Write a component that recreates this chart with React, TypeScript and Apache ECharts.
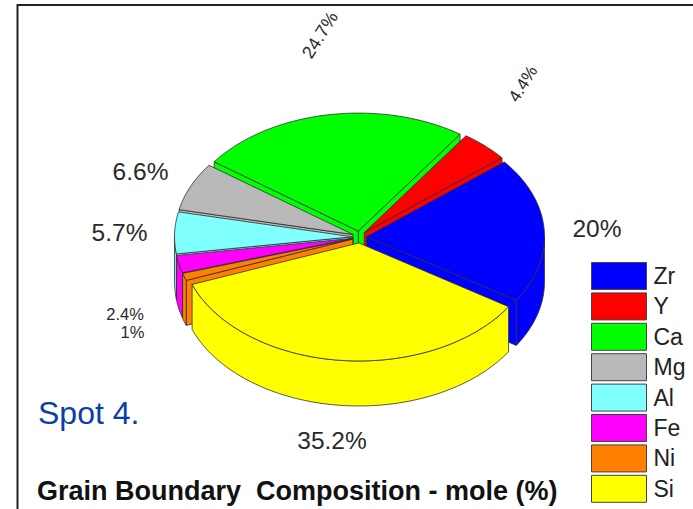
import React, { useEffect, useRef } from "react";
import * as echarts from "echarts";

// Mole percentages, listed counter-clockwise from the lower right of the pie.
const elements = ["Zr", "Y", "Ca", "Mg", "Al", "Fe", "Ni", "Si"];
const moles = [20, 4.4, 24.7, 6.6, 5.7, 2.4, 1, 35.2];
const colors = ["#0000ff", "#ff0000", "#00ff00", "#b9b9b9", "#80ffff", "#ff00ff", "#ff8000", "#ffff00"];
const paintOrder = [2, 1, 3, 0, 4, 5, 6, 7];

const CX = 359.5;
const CY = 237;
const RX = 178;
const RY = 118;
const DEPTH = 45;
const EXPLODE_X = 7;
const EXPLODE_Y = 6;
const START_DEG = 32.7;
const OUTLINE = "#2e2e2e";

const rad = (d: number) => (d * Math.PI) / 180;

function sliceAngles(index: number) {
  const total = moles.reduce((a, b) => a + b, 0);
  const before = moles.slice(0, index).reduce((a, b) => a + b, 0);
  // Angles decrease on screen, so the slices run counter-clockwise.
  const a0 = START_DEG - (before / total) * 360;
  const a1 = a0 - (moles[index] / total) * 360;
  return { a0, a1 };
}

function sliceShapes(index: number) {
  const { a0, a1 } = sliceAngles(index);
  const mid = (a0 + a1) / 2;
  const apex: [number, number] = [
    CX + EXPLODE_X * Math.cos(rad(mid)),
    CY + EXPLODE_Y * Math.sin(rad(mid)),
  ];
  const rim = (d: number, drop = 0): [number, number] => [
    apex[0] + RX * Math.cos(rad(d)),
    apex[1] + RY * Math.sin(rad(d)) + drop,
  ];
  const arc = (from: number, to: number, drop = 0) => {
    const n = Math.max(2, Math.ceil(Math.abs(to - from)));
    return Array.from({ length: n + 1 }, (_, i) => rim(from + ((to - from) * i) / n, drop));
  };

  const style = { fill: colors[index], stroke: OUTLINE, lineWidth: 0.8 };
  const children: any[] = [];
  const poly = (points: number[][], z = 0) =>
    children.push({ type: "polygon", shape: { points }, style, z2: z });

  // Side walls that face the viewer.
  const midDir = [Math.cos(rad(mid)) * RX, Math.sin(rad(mid)) * RY];
  [a0, a1].forEach((a) => {
    const dir = [Math.cos(rad(a)) * RX, Math.sin(rad(a)) * RY];
    const inner = dir[0] * midDir[1] - dir[1] * midDir[0];
    const down = dir[0];
    if (Math.sign(inner) !== Math.sign(down)) {
      poly([apex, rim(a), rim(a, DEPTH), [apex[0], apex[1] + DEPTH]]);
    }
  });

  // Rim wall, only where the arc lies on the near half of the ellipse.
  [[0, 180], [-360, -180]].forEach(([from, to]) => {
    const lo = Math.max(a1, from);
    const hi = Math.min(a0, to);
    if (hi > lo) {
      poly([...arc(hi, lo), ...arc(lo, hi, DEPTH)], 1);
    }
  });

  // Top face.
  poly([apex, ...arc(a0, a1)], 2);
  return children;
}

const pieSeries = paintOrder.map((i) => ({
  type: "custom",
  name: elements[i],
  coordinateSystem: "none",
  silent: true,
  itemStyle: { color: colors[i] },
  data: [moles[i]],
  renderItem: () => ({ type: "group", children: sliceShapes(i) }),
}));

const pct = (i: number) => `${moles[i]}%`;

const font = "Liberation Sans, Arial, sans-serif";
const label = (text: string, x: number, y: number, size: number, rotation = 0) => ({
  type: "text",
  x,
  y,
  rotation,
  silent: true,
  style: { text, fill: "#2a2a2a", font: `${size}px ${font}`, align: "center", verticalAlign: "middle" },
});

export default function App() {
  const ref = useRef<HTMLDivElement>(null);

  useEffect(() => {
    document.body.style.margin = "0";
    const chart = echarts.init(ref.current!, null, { renderer: "svg" });
    chart.setOption({
      animation: false,
      backgroundColor: "#ffffff",
      legend: {
        orient: "vertical",
        left: 591,
        top: 262,
        height: 400,
        icon: "rect",
        itemWidth: 55,
        itemHeight: 27,
        itemGap: 2.4,
        padding: 0,
        selectedMode: false,
        textStyle: { fontFamily: font, fontSize: 23, color: "#222222", padding: [0, 0, 0, 2] },
        data: elements.map((name, i) => ({
          name,
          itemStyle: { color: colors[i], borderColor: "#444444", borderWidth: 1 },
        })),
      },
      series: pieSeries,
      graphic: [
        {
          type: "polyline",
          silent: true,
          shape: { points: [[17.5, 509], [17.5, 5], [693, 5]] },
          style: { fill: "none", stroke: "#222222", lineWidth: 2 },
        },
        label(pct(3), 140.5, 171, 24.5),
        label(pct(4), 119.5, 232, 24.5),
        label(pct(0), 597, 228, 24.5),
        label(pct(7), 332, 440, 24.5),
        label(pct(1), 523, 84, 17, rad(58)),
        label(pct(2), 320, 35, 18, rad(58)),
        label(pct(5), 125, 313.5, 16.5),
        label(pct(6), 132.5, 331.5, 16.5),
        {
          type: "text",
          x: 38,
          y: 413,
          silent: true,
          style: {
            text: "Spot 4.",
            fill: "#0b3fa5",
            font: `32px ${font}`,
            align: "left",
            verticalAlign: "middle",
          },
        },
        {
          type: "text",
          x: 37,
          y: 491,
          silent: true,
          style: {
            text: "Grain Boundary  Composition - mole (%)",
            fill: "#111111",
            font: `bold 27px ${font}`,
            align: "left",
            verticalAlign: "middle",
          },
        },
      ],
    });
    return () => chart.dispose();
  }, []);

  return <div ref={ref} style={{ position: "absolute", left: 0, top: 0, width: 693, height: 509 }} />;
}
